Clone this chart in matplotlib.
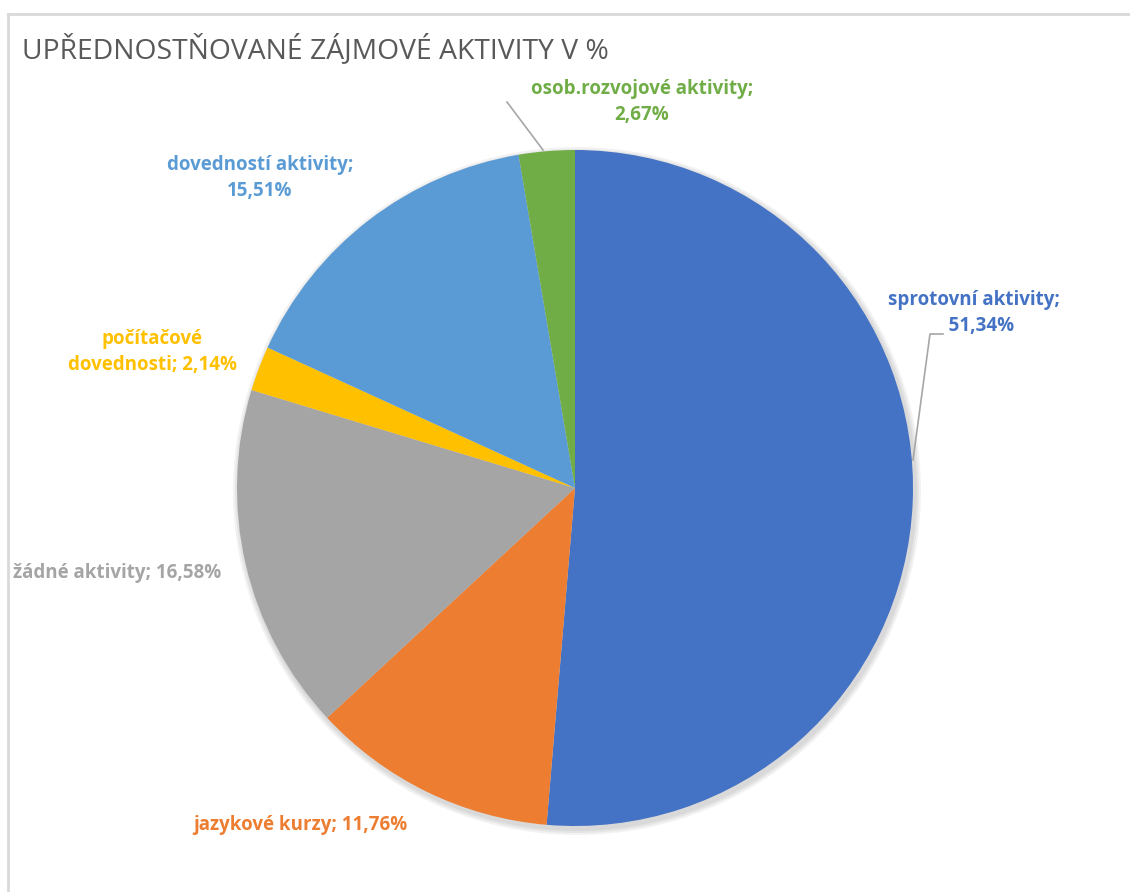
import matplotlib.pyplot as plt
from matplotlib.patches import Circle

categories = ["sprotovní aktivity", "jazykové kurzy", "žádné aktivity",
              "počítačové dovednosti", "dovedností aktivity", "osob.rozvojové aktivity"]
values = [51.34, 11.76, 16.58, 2.14, 15.51, 2.67]
colors = ["#4472C4", "#ED7D31", "#A5A5A5", "#FFC000", "#5B9BD5", "#70AD47"]

W, H = 1130, 892


def fmt(v):
    return f"{v:.2f}".replace(".", ",") + "%"


def main():
    plt.rcParams['font.family'] = ['Open Sans', 'DejaVu Sans']
    fig = plt.figure(figsize=(W / 100, H / 100), dpi=100)
    ax = fig.add_axes([0, 0, 1, 1])

    cx, cy, r = 575, H - 488, 338
    # soft shadow under the pie
    for i, a in enumerate([0.05, 0.05, 0.05]):
        ax.add_patch(Circle((cx + 2, cy - 3), r + 2 + i * 2, color="black",
                            alpha=a, lw=0, zorder=0))
    ax.pie(values, colors=colors, startangle=90, counterclock=False,
           center=(cx, cy), radius=r, frame=True,
           wedgeprops=dict(linewidth=0, zorder=1))
    ax.set_xlim(0, W)
    ax.set_ylim(0, H)
    ax.set_aspect("equal")
    ax.axis("off")

    # chart border (top and left visible)
    ax.plot([8, W], [H - 14, H - 14], color="#d9d9d9", lw=2, clip_on=False)
    ax.plot([8, 8], [H - 14, 0], color="#d9d9d9", lw=2, clip_on=False)

    ax.text(22, H - 50, "UPŘEDNOSTŇOVANÉ ZÁJMOVÉ AKTIVITY V %", fontsize=20.3,
            color="#595959", va="center", ha="left")

    lab = dict(fontsize=13.5, fontweight="bold", va="center", linespacing=1.45)
    # label layout: (x, y, align, text)
    labels = [
        (974, H - 313, "center", "sprotovní aktivity;\n   " + fmt(values[0])),
        (300, H - 825, "center", f"{categories[1]}; {fmt(values[1])}"),
        (13, H - 573, "left", f"{categories[2]}; {fmt(values[2])}"),
        (152, H - 352, "center", "počítačové\ndovednosti; " + fmt(values[3])),
        (260, H - 178, "center", "dovedností aktivity;\n" + fmt(values[4])),
        (642, H - 102, "center", "osob.rozvojové aktivity;\n" + fmt(values[5])),
    ]
    for (x, y, al, t), c in zip(labels, colors):
        ax.text(x, y, t, color=c, ha=al, multialignment="center", **lab)

    # leader lines
    ax.plot([943, 930, 913], [H - 334, H - 334, H - 460], color="#a6a6a6", lw=1.2)
    ax.plot([507, 543], [H - 102, H - 150], color="#a6a6a6", lw=1.2)

    plt.savefig("out.png", dpi=100)


if __name__ == "__main__":
    main()
